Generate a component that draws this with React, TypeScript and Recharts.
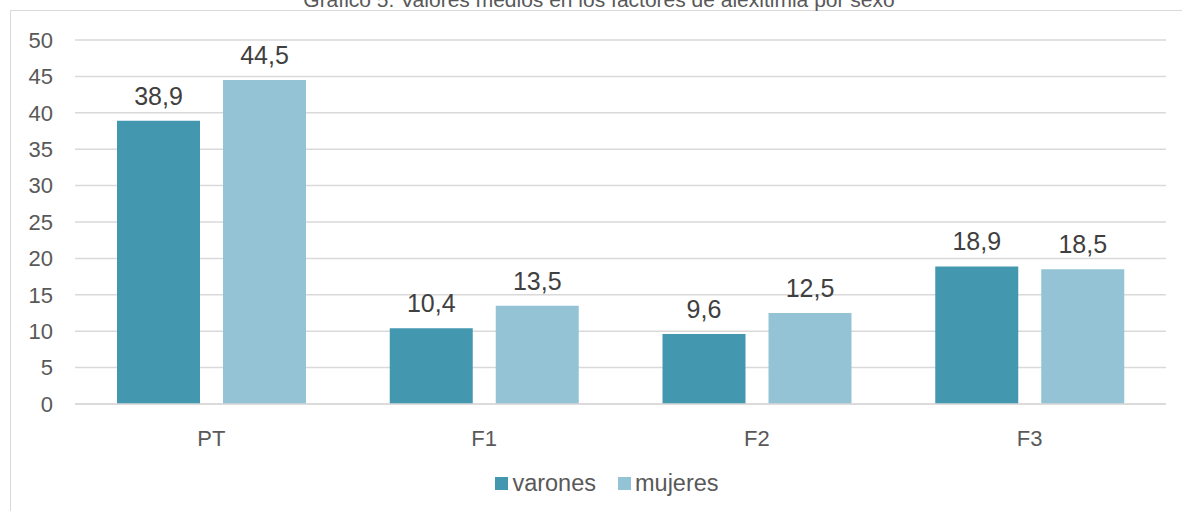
import React from "react";
import {
  BarChart,
  Bar,
  XAxis,
  YAxis,
  CartesianGrid,
  Legend,
  LabelList,
} from "recharts";

const categories = ["PT", "F1", "F2", "F3"];
const varones = [38.9, 10.4, 9.6, 18.9];
const mujeres = [44.5, 13.5, 12.5, 18.5];
const yTicks = [0, 5, 10, 15, 20, 25, 30, 35, 40, 45, 50];

const seriesInfo = [
  { key: "varones", name: "varones", color: "#4398b0" },
  { key: "mujeres", name: "mujeres", color: "#93c3d4" },
];

const data = categories.map((cat, i) => ({
  cat,
  varones: varones[i],
  mujeres: mujeres[i],
}));

const FONT = '"Liberation Sans", Arial, sans-serif';

const fmt = (v: any) => String(v).replace(".", ",");

function LegendBox() {
  return (
    <div
      style={{
        display: "flex",
        justifyContent: "center",
        alignItems: "center",
        height: 30,
        paddingLeft: 32,
        boxSizing: "border-box",
        fontFamily: FONT,
        fontSize: 23.5,
        color: "#595959",
      }}
    >
      {seriesInfo.map((s) => (
        <div
          key={s.key}
          style={{ display: "flex", alignItems: "center", margin: "0 11px" }}
        >
          <span
            style={{
              display: "inline-block",
              width: 13,
              height: 13,
              background: s.color,
              marginRight: 4,
            }}
          />
          <span>{s.name}</span>
        </div>
      ))}
    </div>
  );
}

export default function App() {
  return (
    <div
      style={{
        position: "absolute",
        left: 0,
        top: 0,
        width: 1182,
        height: 511,
        overflow: "hidden",
        background: "#fff",
        fontFamily: FONT,
      }}
    >
      <div
        style={{
          position: "absolute",
          left: 10,
          top: 10,
          width: 1200,
          height: 520,
          border: "1px solid #d9d9d9",
        }}
      />
      <div
        style={{
          position: "absolute",
          left: 0,
          width: 1182,
          top: -11,
          textAlign: "center",
          fontSize: 21,
          lineHeight: "21px",
          color: "#595959",
          paddingLeft: 16,
          boxSizing: "border-box",
        }}
      >
        Gráfico 5. Valores medios en los factores de alexitimia por sexo
      </div>
      <div style={{ position: "absolute", left: 0, top: 0 }}>
        <BarChart
          width={1182}
          height={511}
          data={data}
          margin={{ top: 40, right: 16, bottom: 47, left: 0 }}
          barGap={23}
          barSize={83}
        >
          <CartesianGrid vertical={false} stroke="#d9d9d9" strokeWidth={1.5} />
          <XAxis
            dataKey="cat"
            tickLine={false}
            axisLine={{ stroke: "#d9d9d9", strokeWidth: 1.5 }}
            tick={{ fill: "#595959", fontSize: 22, fontFamily: FONT }}
            tickSize={0}
            tickMargin={26}
          />
          <YAxis
            width={75}
            domain={[0, 50]}
            ticks={yTicks}
            interval={0}
            axisLine={false}
            tickLine={false}
            tickSize={0}
            tickMargin={22}
            tick={{ fill: "#595959", fontSize: 22, fontFamily: FONT }}
          />
          <Legend
            verticalAlign="bottom"
            content={() => <LegendBox />}
            wrapperStyle={{ top: 468, left: 0, width: 1182, height: 30 }}
          />
          {seriesInfo.map((s) => (
            <Bar
              key={s.key}
              dataKey={s.key}
              name={s.name}
              fill={s.color}
              isAnimationActive={false}
            >
              <LabelList
                dataKey={s.key}
                position="top"
                offset={16}
                formatter={fmt}
                style={{ fill: "#404040", fontSize: 25, fontFamily: FONT }}
              />
            </Bar>
          ))}
        </BarChart>
      </div>
    </div>
  );
}
